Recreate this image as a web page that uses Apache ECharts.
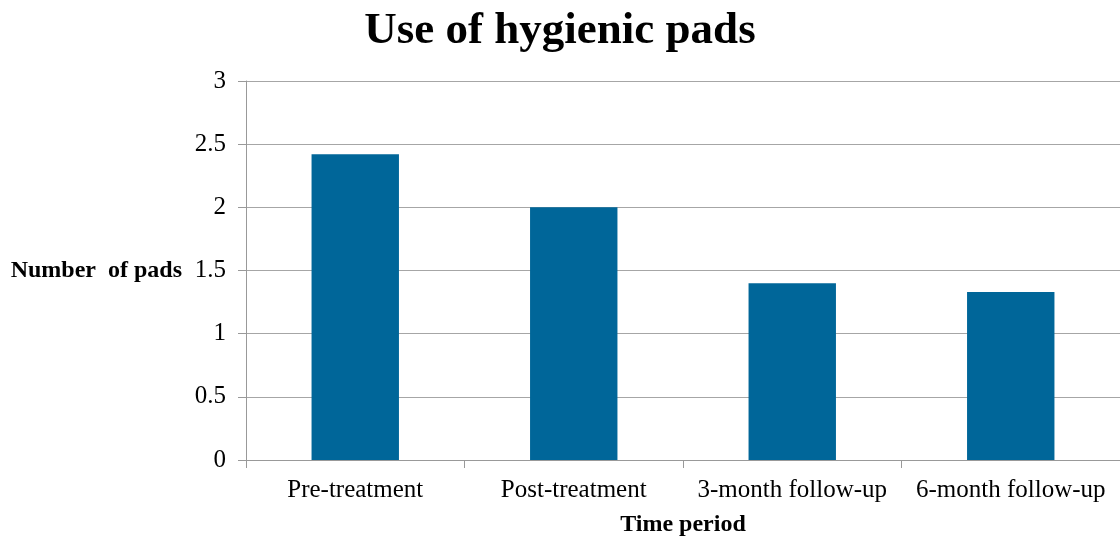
<!DOCTYPE html>
<html>
<head>
<meta charset="utf-8">
<script src="https://cdn.jsdelivr.net/npm/echarts@6/dist/echarts.min.js"></script>
<style>
  html, body { margin: 0; padding: 0; background: #fff; }
  #chart { width: 1120px; height: 542px; }
</style>
</head>
<body>
<div id="chart"></div>
<script>
// time periods and mean pads per day
var categories = ['Pre-treatment', 'Post-treatment', '3-month follow-up', '6-month follow-up']
var padCounts = [2.42, 2.0, 1.4, 1.33]

var font = '"Liberation Serif", "Times New Roman", serif'
var mycharts = echarts.init(document.getElementById('chart'))
var option = {
  animation: false,
  title: {
    text: 'Use of hygienic pads',
    left: 'center',
    top: 4,
    textStyle: { fontFamily: font, fontSize: 45, fontWeight: 'bold', color: '#000' }
  },
  grid: { left: 246, right: 0, top: 81, bottom: 82, outerBoundsMode: 'none', containLabel: false },
  xAxis: {
    type: 'category',
    data: categories,
    name: 'Time period',
    nameLocation: 'middle',
    nameGap: 53,
    nameTextStyle: { fontFamily: font, fontSize: 24, fontWeight: 'bold', color: '#000' },
    axisLine: { lineStyle: { color: '#999' } },
    axisTick: { show: true, interval: 0, length: 8, lineStyle: { color: '#999' } },
    axisLabel: { interval: 0, fontFamily: font, fontSize: 25, color: '#000', margin: 18 }
  },
  yAxis: {
    type: 'value',
    min: 0,
    max: 3,
    interval: 0.5,
    name: 'Number  of pads',
    nameLocation: 'middle',
    nameRotate: 0,
    nameGap: 64,
    nameTextStyle: { fontFamily: font, fontSize: 24, fontWeight: 'bold', color: '#000' },
    axisLine: { show: true, lineStyle: { color: '#999' } },
    axisTick: { show: true, length: 8, lineStyle: { color: '#999' } },
    axisLabel: { fontFamily: font, fontSize: 25, color: '#000', margin: 20 },
    splitLine: { lineStyle: { color: '#a6a6a6' } }
  },
  series: [
    {
      type: 'bar',
      data: padCounts,
      barWidth: '40%',
      itemStyle: { color: '#006699' }
    }
  ]
}
mycharts.setOption(option)
</script>
</body>
</html>
